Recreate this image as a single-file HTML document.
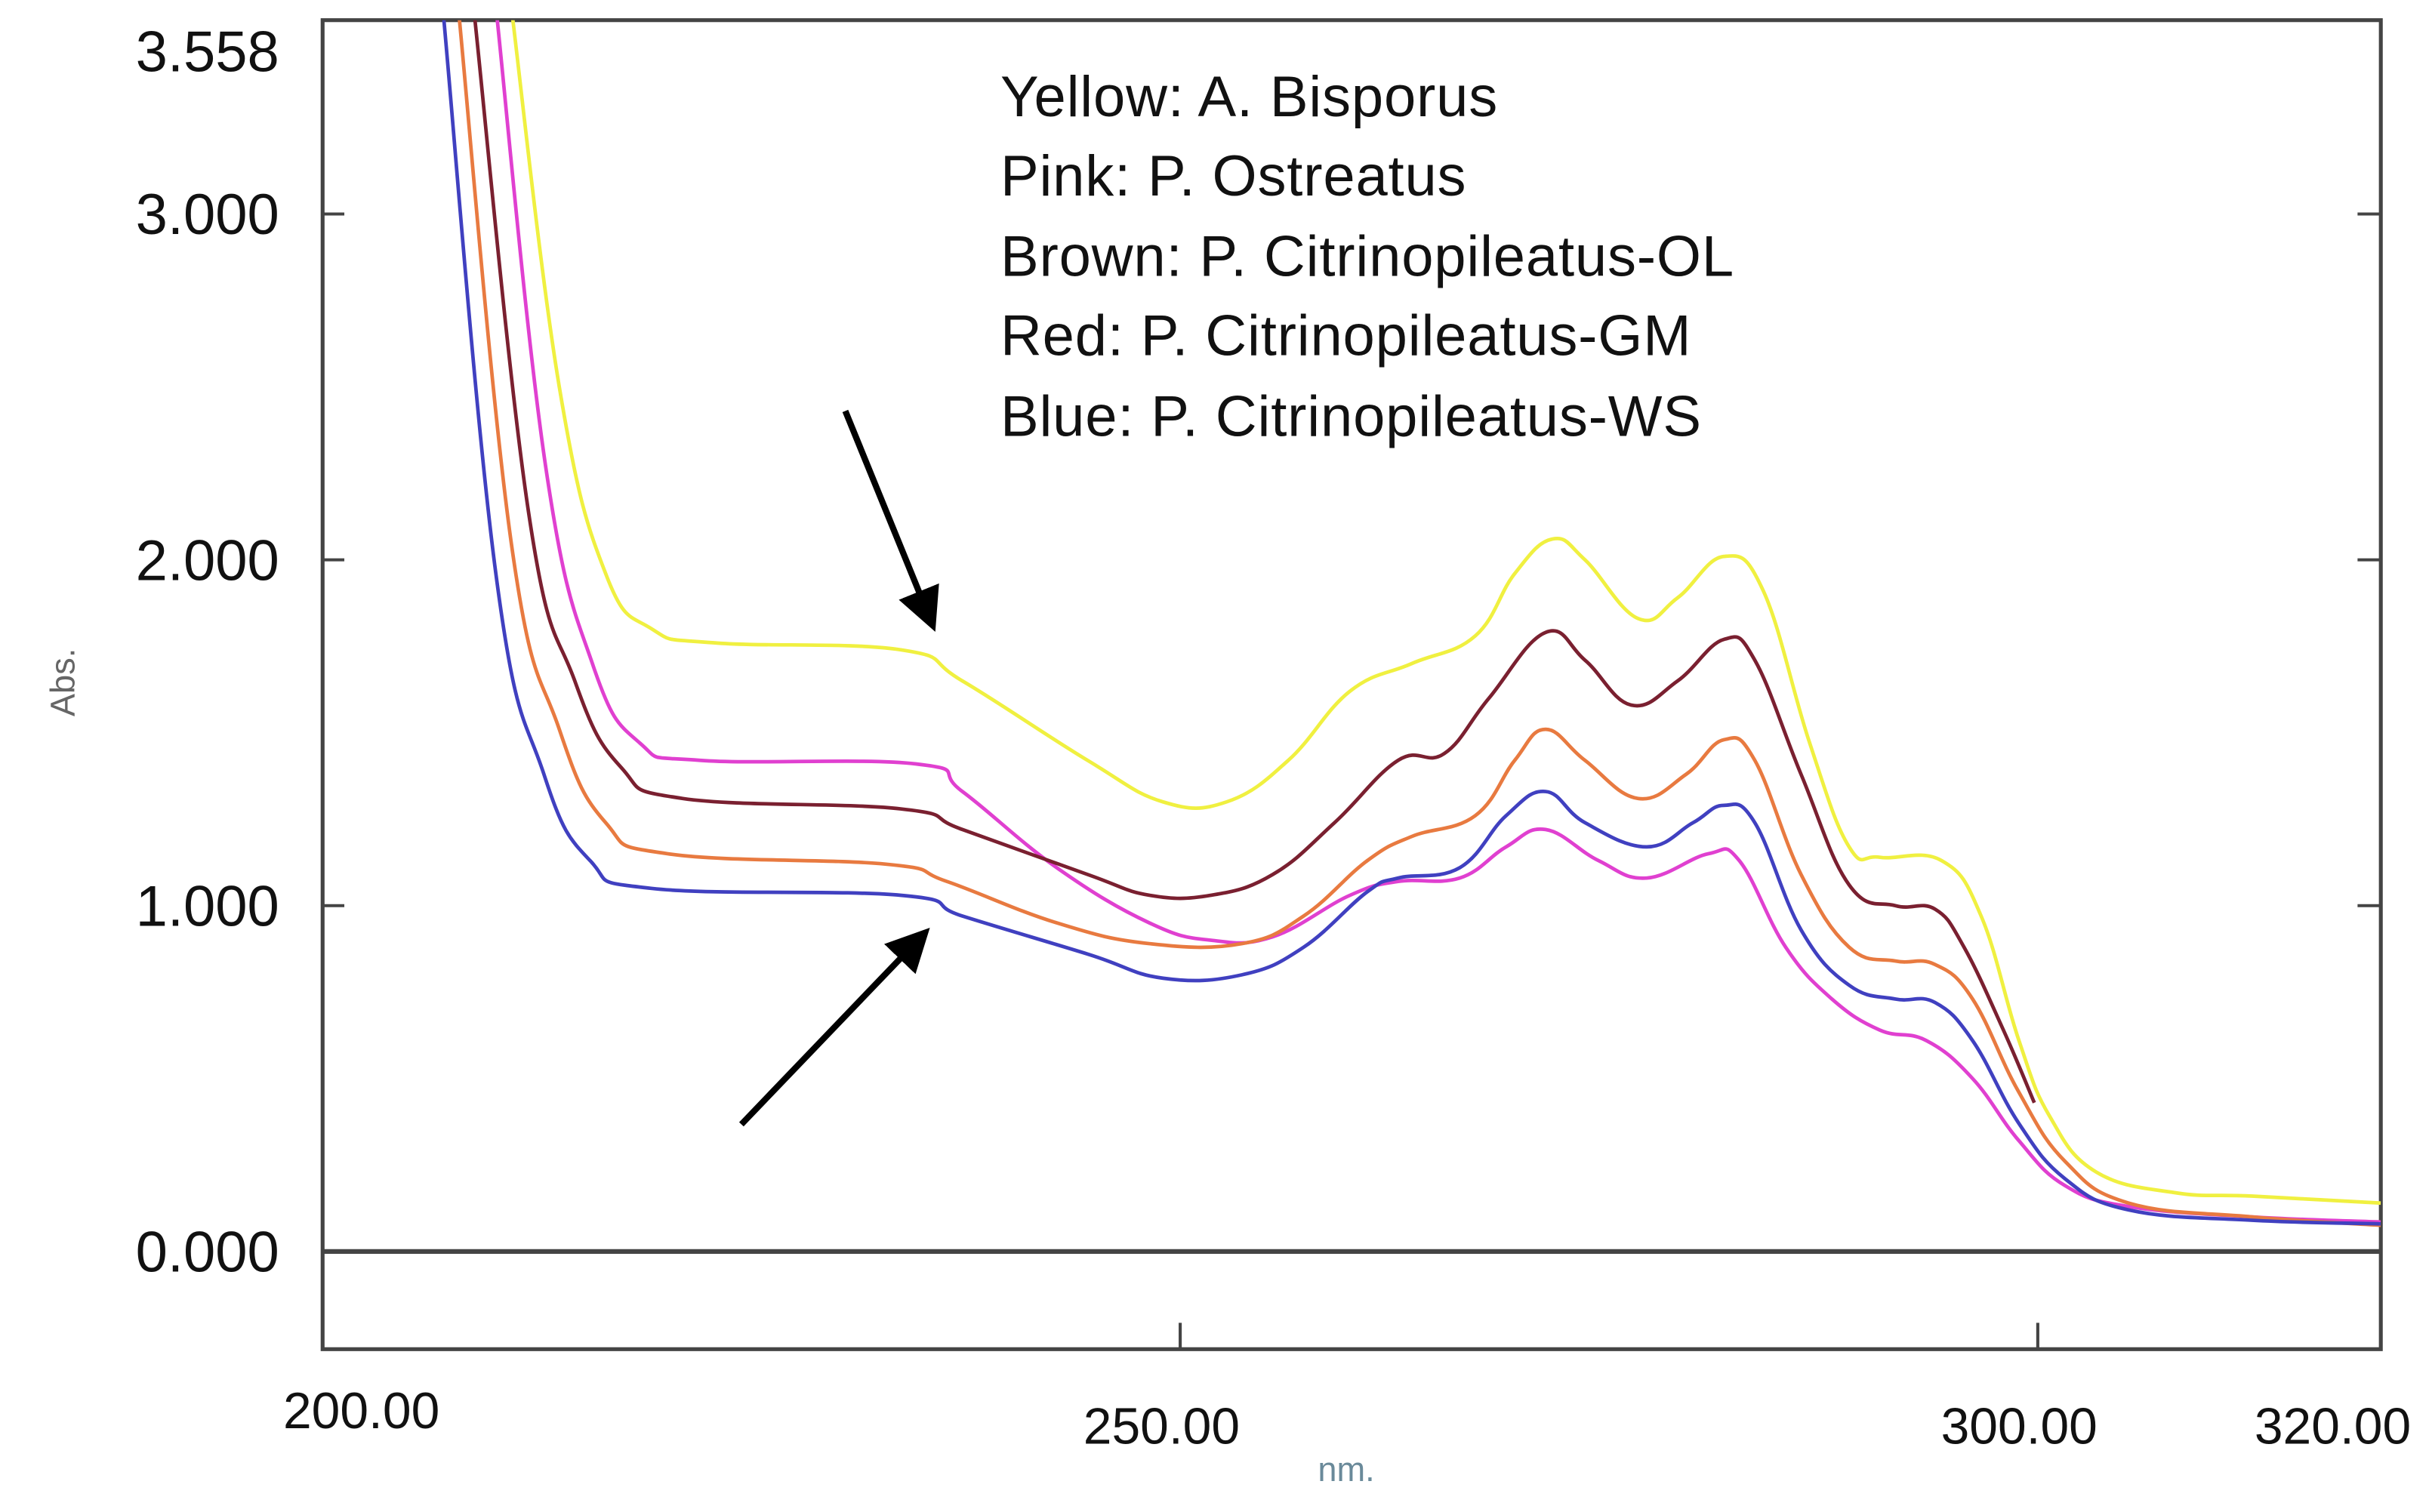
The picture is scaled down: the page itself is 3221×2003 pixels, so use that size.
<!DOCTYPE html>
<html><head><meta charset="utf-8"><style>
html,body{margin:0;padding:0;background:#fff;}
svg{display:block;}
text{font-family:"Liberation Sans",sans-serif;}
</style></head><body>
<svg id="chart" width="3221" height="2003" viewBox="0 0 1568 975" preserveAspectRatio="none" xmlns="http://www.w3.org/2000/svg">
<defs><clipPath id="plotclip"><rect x="208" y="13" width="1327" height="857"/></clipPath>
<marker id="ah" markerWidth="7" markerHeight="7" refX="5" refY="3.5" orient="auto" markerUnits="strokeWidth"><path d="M0,0 L7,3.5 L0,7 z" fill="#000"/></marker></defs>
<g id="axes"></g>
<g id="series" clip-path="url(#plotclip)"></g>
<g font-size="37" fill="#111" letter-spacing="0.4">
<text x="645" y="75">Yellow: A. Bisporus</text>
<text x="645" y="126">Pink: P. Ostreatus</text>
<text x="645" y="178">Brown: P. Citrinopileatus-OL</text>
<text x="645" y="229">Red: P. Citrinopileatus-GM</text>
<text x="645" y="281">Blue: P. Citrinopileatus-WS</text>
</g>
<line x1="545" y1="265" x2="600" y2="400" stroke="#000" stroke-width="4" marker-end="url(#ah)"/>
<line x1="478" y1="725" x2="594" y2="604" stroke="#000" stroke-width="4" marker-end="url(#ah)"/>
<text x="0" y="0" font-size="22" fill="#666" transform="translate(48,440) rotate(-90)" text-anchor="middle">Abs.</text>
<text x="868" y="955" font-size="22" fill="#6a8a9a" text-anchor="middle">nm.</text>
</svg>
<script>
const wlYellow=[211,213.8,216.5,219.2,222.8,233.7,237.3,244.6,249,252.7,256.3,259.9,263.5,267.2,269.5,271.7,273.6,276.7,279,281.7,284,286.7,289,290.8,294.4,296.7,298.9,300.7,303.4,308,312.5,320];
const absYellow=[3.6,2.5,1.96,1.80,1.76,1.74,1.65,1.42,1.30,1.30,1.42,1.62,1.70,1.78,1.96,2.06,2.00,1.83,1.89,2.01,1.91,1.47,1.17,1.14,1.13,0.97,0.61,0.39,0.23,0.17,0.16,0.14];
const wlPink=[210.1,213,215.8,218.5,222,234.6,237.3,242.8,248.2,251.8,255.4,259.9,262.7,266.3,269,271.3,274.4,277.2,280.8,282.6,285.3,288,290.8,293.5,296.2,298.9,301.6,305.3,312.5,320];
const absPink=[3.6,2.27,1.69,1.47,1.42,1.41,1.33,1.11,0.95,0.90,0.91,1.03,1.07,1.08,1.17,1.22,1.13,1.08,1.15,1.13,0.88,0.73,0.64,0.61,0.50,0.32,0.19,0.13,0.10,0.085];
const wlBrown=[208.8,212,214.7,217.4,221,233.7,237.3,244.6,248.2,251.8,255.4,259,262.7,265.4,268,271.3,273.6,276.3,279,281.7,283.5,286.2,289,291.7,294,295.7,298,299.8];
const absBrown=[3.6,2.14,1.65,1.40,1.31,1.28,1.22,1.09,1.03,1.03,1.09,1.24,1.42,1.44,1.60,1.79,1.71,1.58,1.65,1.77,1.71,1.38,1.06,1.00,0.99,0.88,0.64,0.43];
const wlRed=[207.9,211,213.8,216.5,220.1,232.8,236.4,242.8,248.2,253.6,257.2,260.9,263.5,267.2,269.5,271.3,273.6,276.7,279.5,281.7,283.5,286.2,289,291.7,294,296.2,298.9,301.6,305.3,312.5,320];
const absRed=[3.6,2.05,1.51,1.24,1.15,1.12,1.07,0.95,0.89,0.89,0.97,1.13,1.20,1.26,1.42,1.51,1.42,1.31,1.38,1.48,1.42,1.09,0.88,0.84,0.83,0.73,0.46,0.26,0.14,0.10,0.076];
const wlBlue=[207,210.1,212.9,215.6,219.2,233.7,237.3,244.6,249,253.6,257.2,260.9,262.7,266.3,269,271.3,273.6,277.2,279.9,281.7,283.5,286.2,289,291.7,294,296.2,298.9,301.6,305.3,312.5,320];
const absBlue=[3.6,1.96,1.38,1.13,1.05,1.03,0.97,0.86,0.79,0.80,0.88,1.04,1.08,1.11,1.26,1.33,1.24,1.17,1.24,1.29,1.24,0.93,0.77,0.73,0.72,0.61,0.37,0.21,0.12,0.09,0.08];
const yTicks=[3.558,3,2,1,0];
const yTickLabels=["3.558","3.000","2.000","1.000","0.000"];
const xTicks=[200,250,300,320];
const xTickLabels=["200.00","250.00","300.00","320.00"];

const NS="http://www.w3.org/2000/svg";
function xs(nm){return 208+(nm-200)*(1535-208)/120;}
function ys(a){return 807-a*223;}
function mk(tag,attrs,parent){const e=document.createElementNS(NS,tag);for(const k in attrs)e.setAttribute(k,attrs[k]);parent.appendChild(e);return e;}
const axes=document.getElementById('axes');
let frame=mk('rect',{x:208,y:13,width:1327,height:857,fill:'none',stroke:'#444','stroke-width':2.5},axes);


let zl=mk('line',{x1:208,x2:1535,y1:ys(0),y2:ys(0),stroke:'#444','stroke-width':3},axes);


yTicks.forEach((v,i)=>{
  if(i>0){
    let t1=mk('line',{x1:208,x2:222,y1:ys(v),y2:ys(v),stroke:'#444','stroke-width':2},axes);
    
    
    let t2=mk('line',{x1:1520,x2:1535,y1:ys(v),y2:ys(v),stroke:'#444','stroke-width':2},axes);
    
    
  }
  let yy=(i===0)?46:ys(v)+13;
  let tl=mk('text',{x:180,y:yy,'font-size':37,'text-anchor':'end',fill:'#111'},axes);
  tl.textContent=yTickLabels[i];
  
  
});
const xLabY=[921,931,931,931];
xTicks.forEach((v,i)=>{
  if(v>200&&v<320){
    let t=mk('line',{x1:xs(v),x2:xs(v),y1:853,y2:870,stroke:'#444','stroke-width':2},axes);
    
    
  }
  let lx=xs(v)+(v===200?25:(v===320?-31:-12));
  let tl=mk('text',{x:lx,y:xLabY[i],'font-size':33,'text-anchor':'middle',fill:'#111'},axes);
  tl.textContent=xTickLabels[i];
  
  
});
const sg=document.getElementById('series');
function draw(wl,ab,color,name){
  const P=wl.map((w,i)=>[xs(w),ys(ab[i])]);
  let d='M'+P[0][0].toFixed(1)+','+P[0][1].toFixed(1);
  for(let i=0;i<P.length-1;i++){
    const p0=P[Math.max(0,i-1)],p1=P[i],p2=P[i+1],p3=P[Math.min(P.length-1,i+2)];
    const t=0.2;
    const c1=[p1[0]+(p2[0]-p0[0])*t,p1[1]+(p2[1]-p0[1])*t];
    const c2=[p2[0]-(p3[0]-p1[0])*t,p2[1]-(p3[1]-p1[1])*t];
    d+=' C'+c1[0].toFixed(1)+','+c1[1].toFixed(1)+' '+c2[0].toFixed(1)+','+c2[1].toFixed(1)+' '+p2[0].toFixed(1)+','+p2[1].toFixed(1);
  }
  const p=mk('path',{d:d,fill:'none',stroke:color,'stroke-width':2.3,'stroke-linejoin':'round'},sg);
  
  
}
draw(wlYellow,absYellow,'#f0f040','series-yellow-a-bisporus');
draw(wlPink,absPink,'#e040d0','series-pink-p-ostreatus');
draw(wlBrown,absBrown,'#7a2030','series-brown-p-citrinopileatus-ol');
draw(wlRed,absRed,'#e87a40','series-red-p-citrinopileatus-gm');
draw(wlBlue,absBlue,'#4040c0','series-blue-p-citrinopileatus-ws');
</script>
</body></html>
